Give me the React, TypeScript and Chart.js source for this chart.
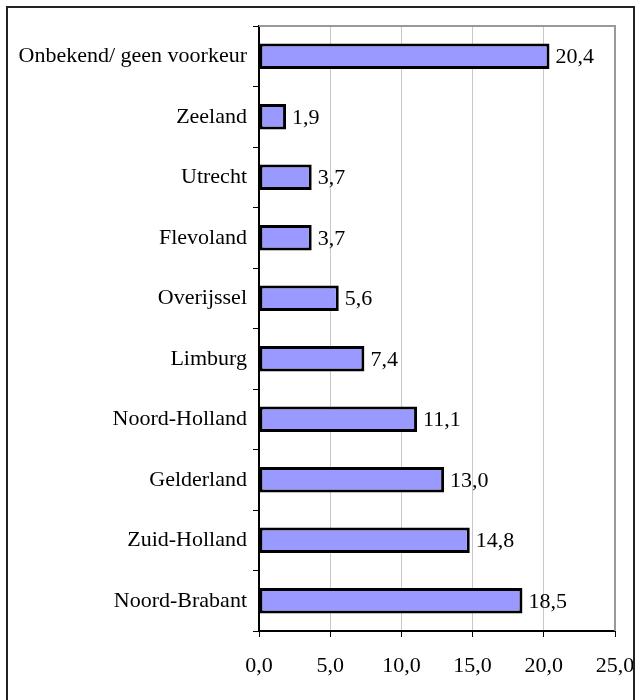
import React, { useEffect, useRef } from "react";
import { Chart, registerables } from "chart.js";

Chart.register(...registerables);

const categories = [
  "Onbekend/ geen voorkeur",
  "Zeeland",
  "Utrecht",
  "Flevoland",
  "Overijssel",
  "Limburg",
  "Noord-Holland",
  "Gelderland",
  "Zuid-Holland",
  "Noord-Brabant",
];
const values = [20.4, 1.9, 3.7, 3.7, 5.6, 7.4, 11.1, 13.0, 14.8, 18.5];
const xMin = 0;
const xMax = 25;
const xStep = 5;

const fmt = (v: number) => v.toFixed(1).replace(".", ",");
const FONT = "'Liberation Serif', 'Times New Roman', serif";
const FS = 22;

export default function App() {
  const ref = useRef<HTMLCanvasElement | null>(null);

  useEffect(() => {
    document.body.style.margin = "0";
    const canvas = ref.current!;
    const decor = {
      id: "decor",
      afterDatasetsDraw(chart: any) {
        const { ctx, chartArea } = chart;
        const meta = chart.getDatasetMeta(0);
        ctx.save();
        ctx.font = `${FS}px ${FONT}`;
        ctx.fillStyle = "#000";
        ctx.textAlign = "left";
        ctx.textBaseline = "middle";
        meta.data.forEach((bar: any, i: number) => {
          ctx.fillText(fmt(values[i]), bar.x + 6, bar.y + 1);
        });
        // plot area gray border (top & right)
        ctx.strokeStyle = "#999999";
        ctx.lineWidth = 2;
        ctx.beginPath();
        ctx.moveTo(chartArea.left, chartArea.top);
        ctx.lineTo(chartArea.right, chartArea.top);
        ctx.lineTo(chartArea.right, chartArea.bottom);
        ctx.stroke();
        // outer frame
        ctx.strokeStyle = "#222";
        ctx.lineWidth = 2;
        ctx.strokeRect(7, 7, 627, 700);
        ctx.restore();
      },
    };

    const chart = new Chart(canvas, {
      type: "bar",
      data: {
        labels: categories,
        datasets: [
          {
            data: values,
            backgroundColor: "#9999FF",
            borderColor: "#000",
            borderWidth: 3,
            borderSkipped: false,
            categoryPercentage: 1,
            barPercentage: 0.42,
          },
        ],
      },
      options: {
        indexAxis: "y",
        animation: false,
        responsive: false,
        layout: { padding: { top: 26, right: 22, left: 0, bottom: 0 } },
        plugins: { legend: { display: false }, tooltip: { enabled: false } },
        scales: {
          x: {
            min: xMin,
            max: xMax,
            ticks: {
              stepSize: xStep,
              color: "#000",
              font: { family: FONT, size: FS },
              padding: 16,
              callback: (v: any) => fmt(Number(v)),
            },
            grid: {
              color: "#c8c8c8",
              tickColor: "#000",
              tickLength: 6,
              lineWidth: 1,
            },
            border: { color: "#000", width: 2 },
            afterFit: (s: any) => {
              s.height = 69;
              s.paddingLeft = 0;
              s.paddingRight = 0;
            },
          },
          y: {
            ticks: {
              color: "#000",
              font: { family: FONT, size: FS },
              padding: 6,
            },
            grid: {
              offset: true,
              drawOnChartArea: false,
              tickColor: "#000",
              tickLength: 6,
              color: "#000",
            },
            border: { color: "#000", width: 2 },
            afterFit: (s: any) => {
              s.width = 259;
              s.paddingTop = 0;
              s.paddingBottom = 0;
            },
          },
        },
      },
      plugins: [decor],
    });
    return () => chart.destroy();
  }, []);

  return <canvas ref={ref} width={637} height={700} style={{ display: "block" }} />;
}
